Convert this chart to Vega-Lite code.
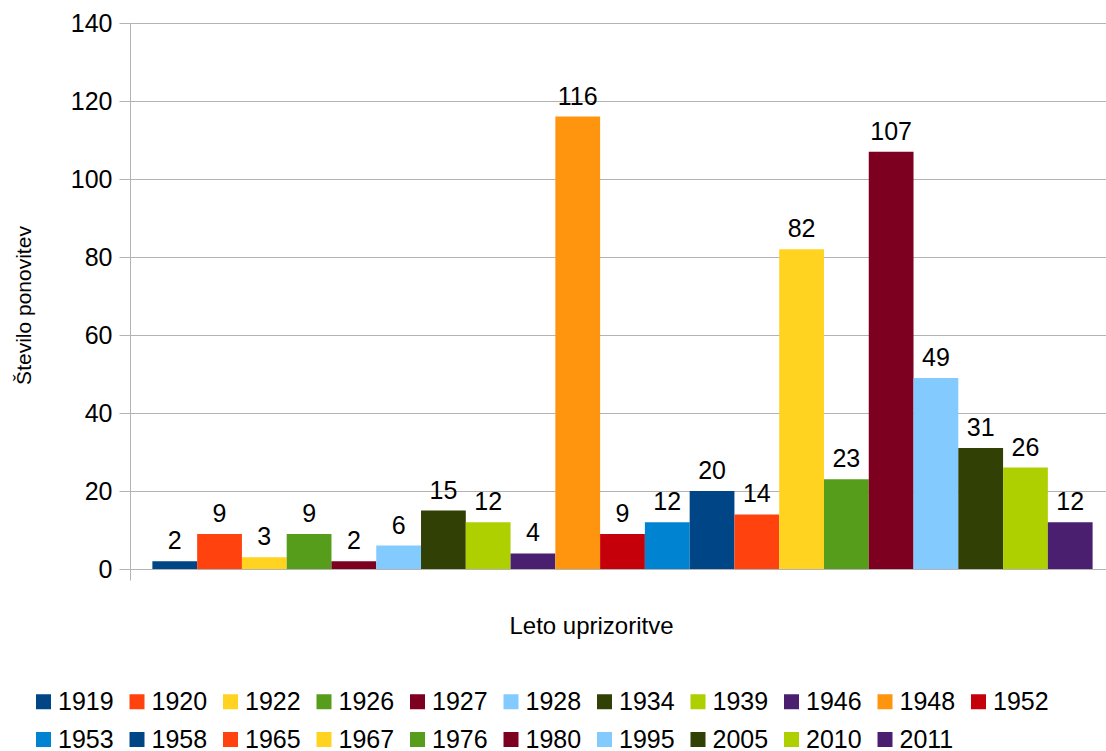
{
  "$schema": "https://vega.github.io/schema/vega-lite/v6.json",
  "autosize": {"type": "none"},
  "padding": {"left": 130, "top": 23, "right": 0, "bottom": 182},
  "width": 985,
  "height": 546,
  "background": "white",
  "config": {
    "view": {"stroke": null},
    "font": "Liberation Sans"
  },
  "data": {
    "values": [
      {"year": "1919", "count": 2},
      {"year": "1920", "count": 9},
      {"year": "1922", "count": 3},
      {"year": "1926", "count": 9},
      {"year": "1927", "count": 2},
      {"year": "1928", "count": 6},
      {"year": "1934", "count": 15},
      {"year": "1939", "count": 12},
      {"year": "1946", "count": 4},
      {"year": "1948", "count": 116},
      {"year": "1952", "count": 9},
      {"year": "1953", "count": 12},
      {"year": "1958", "count": 20},
      {"year": "1965", "count": 14},
      {"year": "1967", "count": 82},
      {"year": "1976", "count": 23},
      {"year": "1980", "count": 107},
      {"year": "1995", "count": 49},
      {"year": "2005", "count": 31},
      {"year": "2010", "count": 26},
      {"year": "2011", "count": 12}
    ]
  },
  "encoding": {
    "x": {
      "field": "year",
      "type": "nominal",
      "scale": {"paddingInner": 0, "paddingOuter": 0.5},
      "axis": {
        "title": "Leto uprizoritve",
        "titleFont": "Liberation Sans",
        "titleFontSize": 24,
        "titleFontWeight": "normal",
        "titleColor": "black",
        "titleAlign": "center",
        "titleBaseline": "alphabetic",
        "titleX": 461,
        "titleY": 64,
        "labels": false,
        "values": ["1919"],
        "bandPosition": 0,
        "tickOffset": -22.4,
        "tickSize": 11,
        "tickColor": "#b3b3b3",
        "domainColor": "#b3b3b3",
        "grid": false
      }
    },
    "y": {
      "field": "count",
      "type": "quantitative",
      "scale": {"domain": [0, 140], "nice": false},
      "axis": {
        "title": "Število ponovitev",
        "titleFont": "Liberation Sans",
        "titleFontSize": 21,
        "titleFontWeight": "normal",
        "titleColor": "black",
        "titleAngle": -90,
        "titleAlign": "center",
        "titleBaseline": "alphabetic",
        "titleX": -100,
        "titleY": 282,
        "values": [0, 20, 40, 60, 80, 100, 120, 140],
        "labelFontSize": 25,
        "labelColor": "black",
        "labelPadding": 7,
        "tickSize": 11,
        "tickColor": "#b3b3b3",
        "domainColor": "#b3b3b3",
        "grid": true,
        "gridColor": "#b3b3b3"
      }
    }
  },
  "layer": [
    {
      "mark": {"type": "bar"},
      "encoding": {
        "color": {
          "field": "year",
          "type": "nominal",
          "scale": {
            "domain": ["1919", "1920", "1922", "1926", "1927", "1928", "1934", "1939", "1946", "1948", "1952", "1953", "1958", "1965", "1967", "1976", "1980", "1995", "2005", "2010", "2011"],
            "range": ["#004586", "#ff420e", "#ffd320", "#579d1c", "#7e0021", "#83caff", "#314004", "#aecf00", "#4b1f6f", "#ff950e", "#c5000b", "#0084d1", "#004586", "#ff420e", "#ffd320", "#579d1c", "#7e0021", "#83caff", "#314004", "#aecf00", "#4b1f6f"]
          },
          "legend": {
            "title": null,
            "orient": "none",
            "legendX": -99,
            "legendY": 666,
            "direction": "horizontal",
            "columns": 11,
            "padding": 0,
            "symbolType": "square",
            "symbolSize": 225,
            "symbolStrokeWidth": 0,
            "symbolOpacity": 1,
            "labelFont": "Liberation Sans",
            "labelFontSize": 25,
            "labelColor": "black",
            "labelOffset": 2,
            "columnPadding": 10.5,
            "rowPadding": 12
          }
        }
      }
    },
    {
      "mark": {
        "type": "text",
        "font": "Liberation Sans",
        "fontSize": 25,
        "color": "black",
        "baseline": "alphabetic",
        "dy": -12
      },
      "encoding": {
        "text": {"field": "count", "type": "quantitative"}
      }
    }
  ]
}
